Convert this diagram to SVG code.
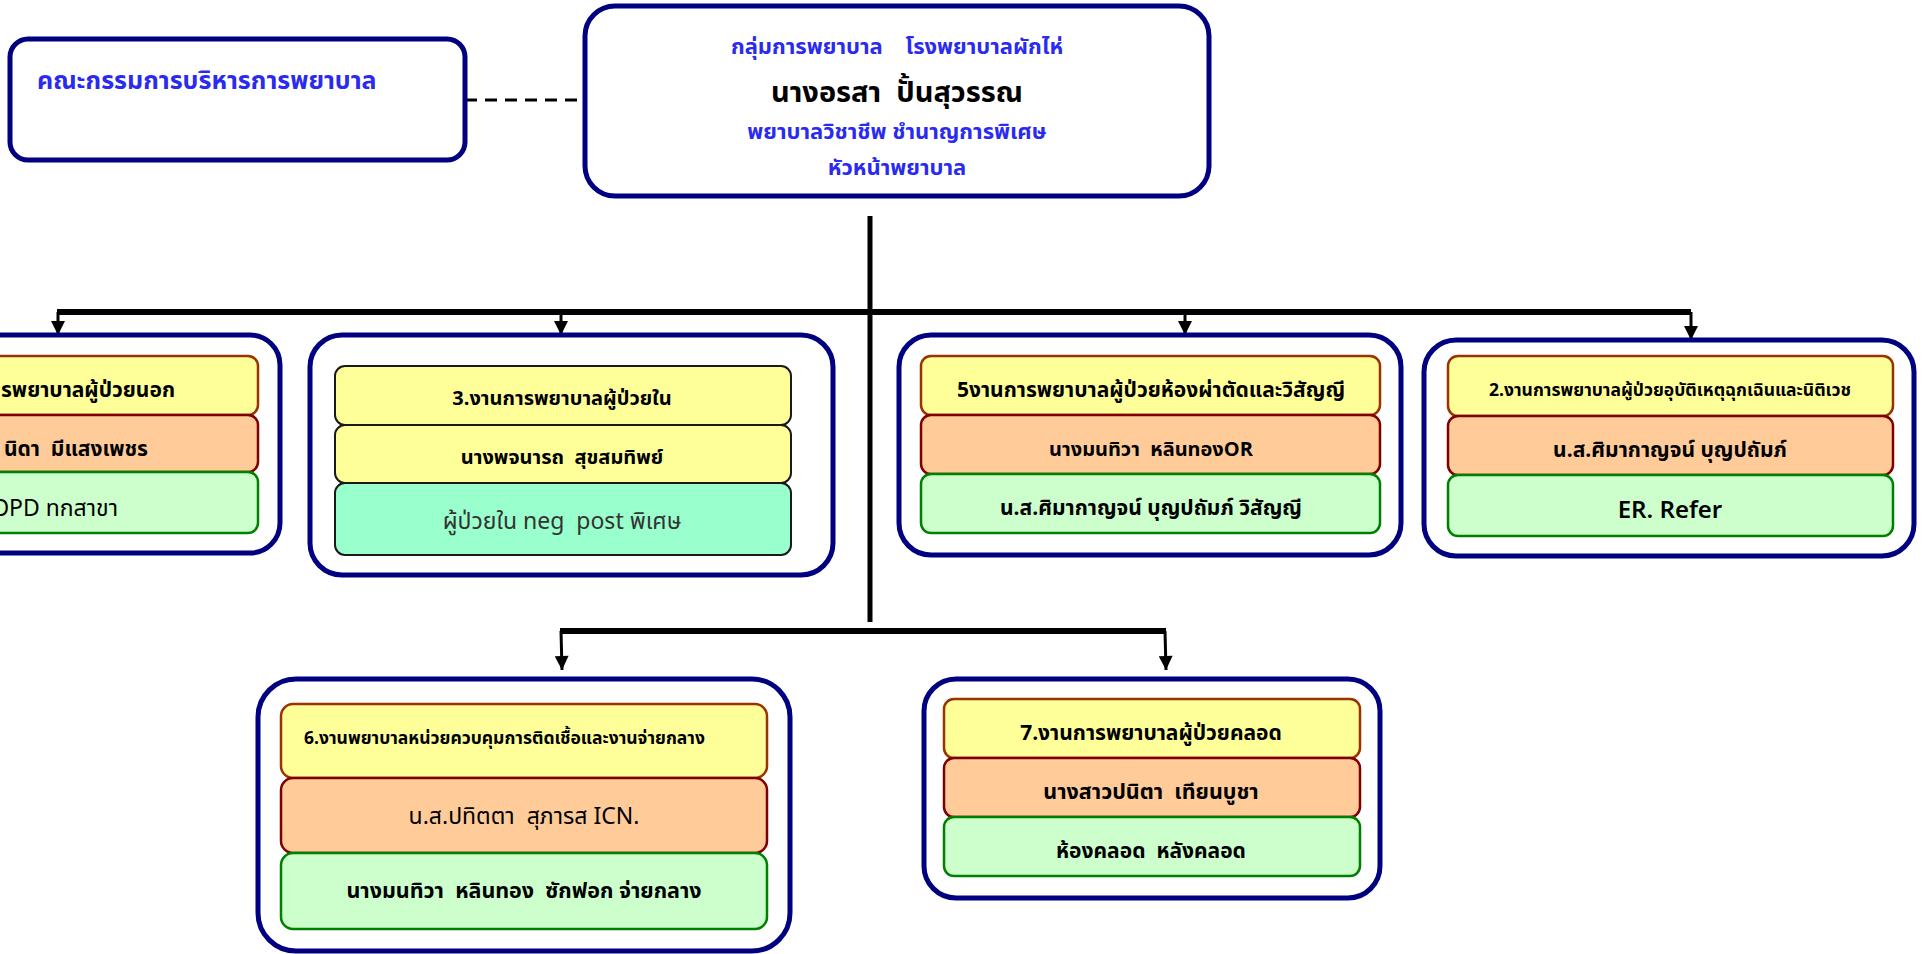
<svg xmlns="http://www.w3.org/2000/svg" width="1924" height="954" viewBox="0 0 1924 954">
<style>
text{font-family:Tahoma,"Noto Sans Thai","Noto Sans","DejaVu Sans",sans-serif;}
.outer{fill:#fff;stroke:#000080;stroke-width:5;}
.y{fill:#ffff99;stroke:#993300;stroke-width:2.5;}
.o{fill:#ffcc99;stroke:#800000;stroke-width:2.5;}
.g{fill:#ccffcc;stroke:#008000;stroke-width:2.5;}
.yk{fill:#ffff99;stroke:#1a1a1a;stroke-width:2;}
.t{fill:#99ffcc;stroke:#1a1a1a;stroke-width:2;}
.b{font-weight:bold;font-size:21px;fill:#000;text-anchor:middle;}
.blue{fill:#2b2bf0;font-weight:bold;text-anchor:middle;font-size:22px;}
.ln{stroke:#000;fill:none;}
</style>
<defs>
<marker id="ah2" viewBox="0 0 10 10" refX="10" refY="5" markerWidth="16" markerHeight="14" markerUnits="userSpaceOnUse" orient="auto">
<path d="M0,0 L10,5 L0,10 z" fill="#000"/>
</marker>
</defs>

<g id="connectors">
<line class="ln" x1="465" y1="100" x2="585" y2="100" stroke-width="3" stroke-dasharray="12,8"/>
<line class="ln" x1="870" y1="216" x2="870" y2="622" stroke-width="5"/>
<line class="ln" x1="57" y1="312" x2="1691" y2="312" stroke-width="6"/>
<path class="ln" d="M58,312 V335" stroke-width="3" marker-end="url(#ah2)"/>
<path class="ln" d="M561,312 V335" stroke-width="3" marker-end="url(#ah2)"/>
<path class="ln" d="M1185,312 V335" stroke-width="3" marker-end="url(#ah2)"/>
<path class="ln" d="M1691,312 V340" stroke-width="3" marker-end="url(#ah2)"/>
<line class="ln" x1="560" y1="631" x2="1166" y2="631" stroke-width="6"/>
<path class="ln" d="M561,631 L562,670" stroke-width="3" marker-end="url(#ah2)"/>
<path class="ln" d="M1165,631 L1166,670" stroke-width="3" marker-end="url(#ah2)"/>
</g>

<g id="committee">
<rect class="outer" x="10" y="39" width="455" height="121" rx="18"/>
<text x="37" y="89" style="fill:#2b2bf0;font-weight:bold;font-size:25px;">คณะกรรมการบริหารการพยาบาล</text>
</g>

<g id="head">
<rect class="outer" x="585" y="6" width="624" height="190" rx="30"/>
<text class="blue" x="897" y="54" xml:space="preserve">กลุ่มการพยาบาล    โรงพยาบาลผักไห่</text>
<text x="897" y="102" xml:space="preserve" style="font-size:29px;font-weight:bold;text-anchor:middle;fill:#000;">นางอรสา  ปั้นสุวรรณ</text>
<text class="blue" x="897" y="139">พยาบาลวิชาชีพ ชำนาญการพิเศษ</text>
<text class="blue" x="897" y="175">หัวหน้าพยาบาล</text>
</g>

<g id="unit1">
<rect class="outer" x="-170" y="335" width="450" height="218" rx="30"/>
<rect class="y" x="-150" y="356" width="408" height="59" rx="10"/>
<rect class="o" x="-150" y="415" width="408" height="57" rx="10"/>
<rect class="g" x="-150" y="472" width="408" height="61" rx="10"/>
<text class="b" x="175" y="397" style="text-anchor:end">รพยาบาลผู้ป่วยนอก</text>
<text class="b" x="148" y="456" style="text-anchor:end" xml:space="preserve">นิดา  มีแสงเพชร</text>
<text x="118" y="516" style="text-anchor:end;font-size:23px;fill:#000;">OPD ทกสาขา</text>
</g>

<g id="unit3">
<rect class="outer" x="310" y="335" width="523" height="240" rx="32"/>
<rect class="yk" x="335" y="366" width="456" height="59" rx="10"/>
<rect class="yk" x="335" y="425" width="456" height="58" rx="10"/>
<rect class="t" x="335" y="483" width="456" height="72" rx="10"/>
<text class="b" x="562" y="405" style="font-size:20px">3.งานการพยาบาลผู้ป่วยใน</text>
<text class="b" x="562" y="464" xml:space="preserve" style="font-size:20px">นางพจนารถ  สุขสมทิพย์</text>
<text x="562" y="529" xml:space="preserve" style="text-anchor:middle;font-size:23px;fill:#333;">ผู้ป่วยใน neg  post พิเศษ</text>
</g>

<g id="unit5">
<rect class="outer" x="899" y="335" width="502" height="220" rx="32"/>
<rect class="y" x="921" y="356" width="459" height="59" rx="10"/>
<rect class="o" x="921" y="415" width="459" height="59" rx="10"/>
<rect class="g" x="921" y="474" width="459" height="59" rx="10"/>
<text class="b" x="1151" y="397">5งานการพยาบาลผู้ป่วยห้องผ่าตัดและวิสัญญี</text>
<text class="b" x="1151" y="456" xml:space="preserve" style="font-size:20px">นางมนทิวา  หลินทองOR</text>
<text class="b" x="1151" y="515">น.ส.ศิมากาญจน์ บุญปถัมภ์ วิสัญญี</text>
</g>

<g id="unit2">
<rect class="outer" x="1424" y="340" width="490" height="216" rx="32"/>
<rect class="y" x="1448" y="356" width="445" height="60" rx="10"/>
<rect class="o" x="1448" y="416" width="445" height="59" rx="10"/>
<rect class="g" x="1448" y="475" width="445" height="61" rx="10"/>
<text class="b" x="1670" y="396" style="font-size:17.5px">2.งานการพยาบาลผู้ป่วยอุบัติเหตุฉุกเฉินและนิติเวช</text>
<text class="b" x="1670" y="457">น.ส.ศิมากาญจน์ บุญปถัมภ์</text>
<text x="1670" y="518" style="text-anchor:middle;font-size:24px;font-weight:600;fill:#000;">ER. Refer</text>
</g>

<g id="unit6">
<rect class="outer" x="258" y="679" width="532" height="272" rx="38"/>
<rect class="y" x="281" y="704" width="486" height="74" rx="12"/>
<rect class="o" x="281" y="778" width="486" height="75" rx="12"/>
<rect class="g" x="281" y="853" width="486" height="76" rx="12"/>
<text x="304" y="744" style="font-weight:bold;font-size:17.5px;fill:#000;">6.งานพยาบาลหน่วยควบคุมการติดเชื้อและงานจ่ายกลาง</text>
<text x="524" y="824" xml:space="preserve" style="text-anchor:middle;font-size:23px;fill:#000;">น.ส.ปทิตตา  สุภารส ICN.</text>
<text class="b" x="524" y="898" xml:space="preserve" style="font-size:21.5px">นางมนทิวา  หลินทอง  ซักฟอก จ่ายกลาง</text>
</g>

<g id="unit7">
<rect class="outer" x="924" y="679" width="456" height="219" rx="32"/>
<rect class="y" x="944" y="699" width="416" height="59" rx="10"/>
<rect class="o" x="944" y="758" width="416" height="59" rx="10"/>
<rect class="g" x="944" y="817" width="416" height="59" rx="10"/>
<text class="b" x="1151" y="740">7.งานการพยาบาลผู้ป่วยคลอด</text>
<text class="b" x="1151" y="799" xml:space="preserve" style="font-size:21.5px">นางสาวปนิตา  เทียนบูชา</text>
<text class="b" x="1151" y="858" xml:space="preserve">ห้องคลอด  หลังคลอด</text>
</g>
</svg>
